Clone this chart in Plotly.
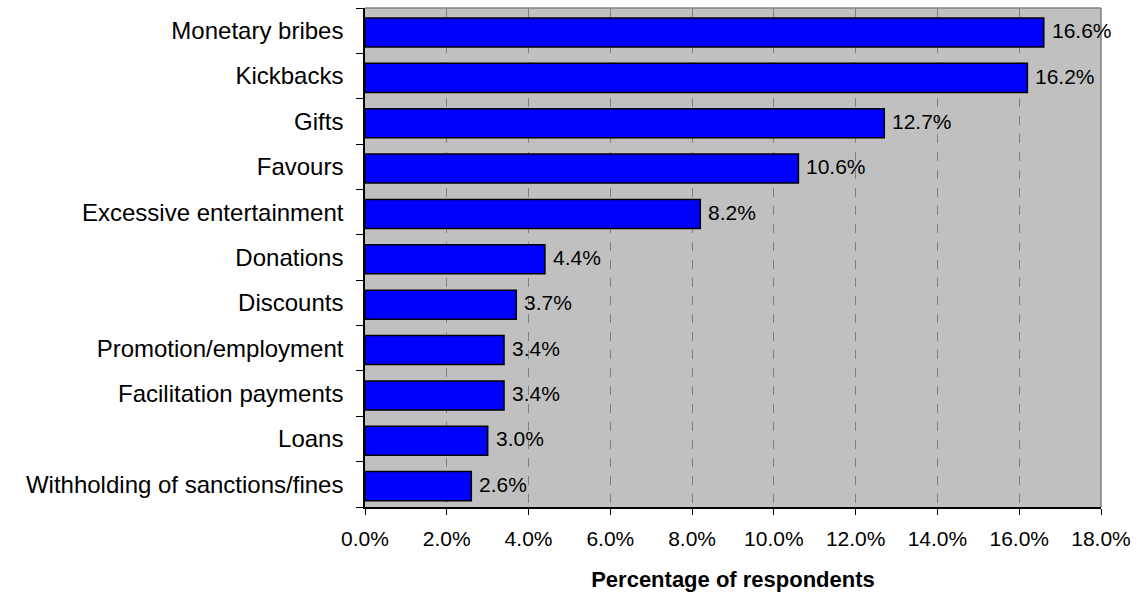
import plotly.graph_objects as go

categories = [
    "Monetary bribes", "Kickbacks", "Gifts", "Favours", "Excessive entertainment",
    "Donations", "Discounts", "Promotion/employment", "Facilitation payments",
    "Loans", "Withholding of sanctions/fines",
]
values = [16.6, 16.2, 12.7, 10.6, 8.2, 4.4, 3.7, 3.4, 3.4, 3.0, 2.6]
x_ticks = [0, 2, 4, 6, 8, 10, 12, 14, 16, 18]
x_tick_labels = [f"{v:.1f}%" for v in x_ticks]

font = "Arial, Liberation Sans, sans-serif"

cats_bottom_up = categories[::-1]
vals_bottom_up = values[::-1]

fig = go.Figure(go.Bar(
    y=cats_bottom_up,
    x=vals_bottom_up,
    orientation="h",
    width=0.64,
    offset=-0.36,
    marker=dict(color="#0000FF", line=dict(color="#000000", width=1.5)),
))

# value labels just past the end of each bar
for c, v in zip(cats_bottom_up, vals_bottom_up):
    fig.add_annotation(
        x=v, y=c, yshift=0, xshift=6,
        text=f"{v:.1f}%",
        showarrow=False, xanchor="left", yanchor="middle",
        font=dict(family=font, size=21, color="#000000"),
    )

fig.update_layout(
    width=1139, height=596,
    margin=dict(l=365, r=38, t=8, b=89),
    plot_bgcolor="#C0C0C0",
    paper_bgcolor="#FFFFFF",
    showlegend=False,
    font=dict(family=font, size=21, color="#000000"),
    xaxis=dict(
        range=[0, 18],
        tickvals=x_ticks,
        ticktext=x_tick_labels,
        showgrid=True,
        gridcolor="#808080",
        griddash="dash",
        gridwidth=1,
        showline=True,
        linecolor="#000000",
        linewidth=1.5,
        ticks="outside",
        ticklen=6,
        tickcolor="#000000",
        tickfont=dict(size=21),
        ticklabelstandoff=6,
        zeroline=False,
        title=dict(text="<b>Percentage of respondents</b>", font=dict(size=22), standoff=23),
    ),
    yaxis=dict(
        showgrid=False,
        showline=True,
        linecolor="#000000",
        linewidth=1.5,
        ticks="outside",
        tickson="boundaries",
        ticklen=7,
        tickcolor="#000000",
        tickfont=dict(size=24),
        ticklabelstandoff=15,
    ),
    shapes=[
        dict(type="line", xref="paper", yref="paper", x0=0, x1=1, y0=1, y1=1,
             line=dict(color="#808080", width=1.5)),
        dict(type="line", xref="paper", yref="paper", x0=1, x1=1, y0=0, y1=1,
             line=dict(color="#808080", width=1.5)),
    ],
)

fig.write_html("out.html")
